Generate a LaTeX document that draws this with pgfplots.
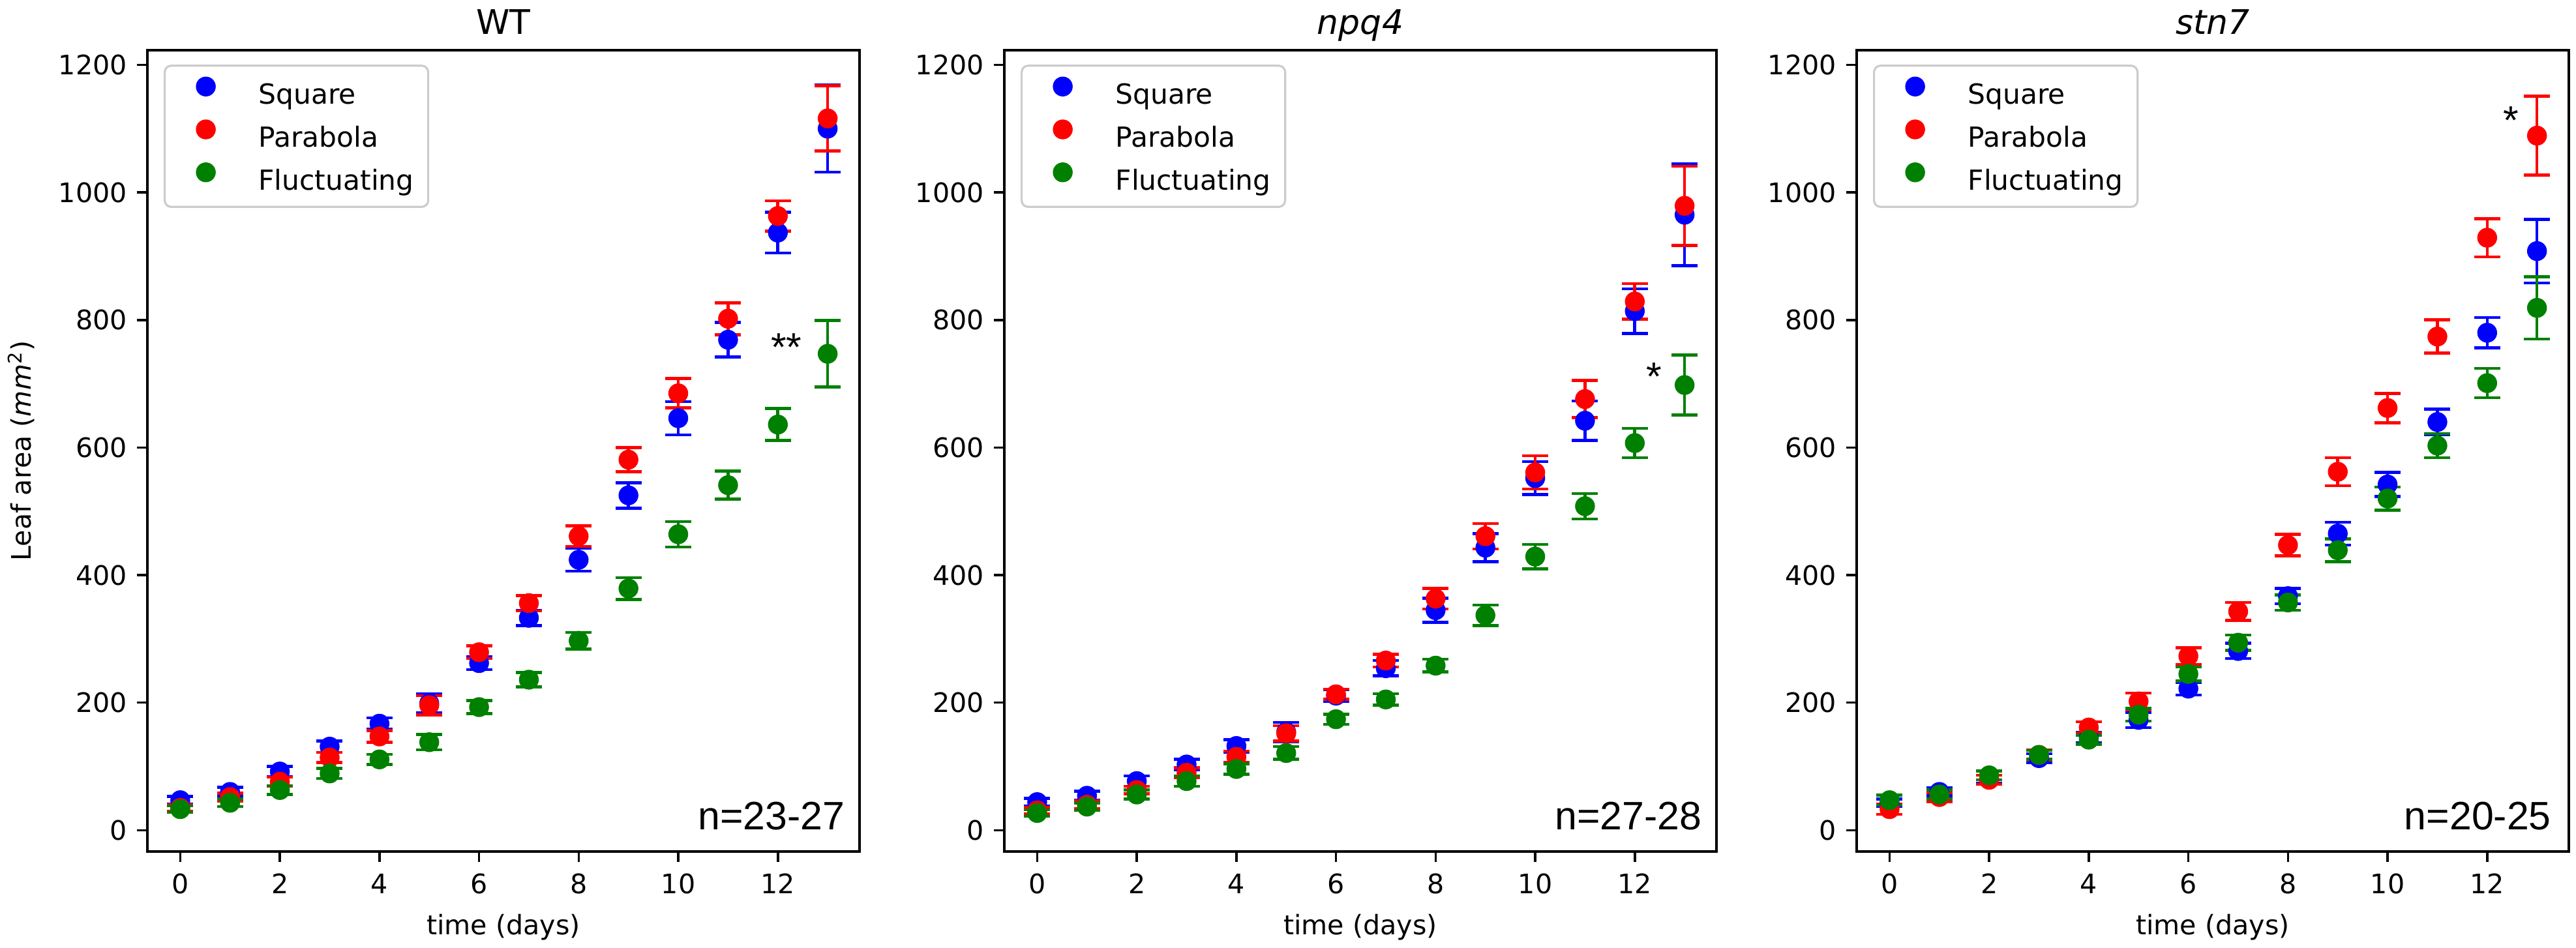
\documentclass[border=0pt]{standalone}
\usepackage{fontspec}
\setmainfont{DejaVu Sans}
\newfontfamily\arialfont{Liberation Sans}
\usepackage{pgfplots}
\pgfplotsset{compat=1.18}
\usepackage{pgfplotstable}

\definecolor{mblue}{RGB}{0,0,255}
\definecolor{mred}{RGB}{255,0,0}
\definecolor{mgreen}{RGB}{0,128,0}

% ---------------- WT ----------------
\pgfplotstableread{
x y e
0 47 6
1 60 7
2 92 8
3 131 9
4 167 9
5 199 15
6 262 10
7 333 12
8 424 18
9 525 20
10 646 26
11 769 27
12 937 32
13 1100 68
}\wtsq
\pgfplotstableread{
x y e
0 35 5
1 52 6
2 76 7
3 114 8
4 147 9
5 196 15
6 279 10
7 356 12
8 461 16
9 581 19
10 685 23
11 802 25
12 963 24
13 1116 51
}\wtpa
\pgfplotstableread{
x y e
0 33 5
1 43 6
2 63 7
3 89 8
4 111 8
5 138 12
6 193 10
7 236 11
8 297 13
9 379 17
10 464 20
11 541 22
12 636 25
13 747 52
}\wtfl
% ---------------- npq4 ----------------
\pgfplotstableread{
x y e
0 44 6
1 54 7
2 77 8
3 103 8
4 132 10
5 154 15
6 211 9
7 254 12
8 345 19
9 443 22
10 552 26
11 642 31
12 814 35
13 965 80
}\npsq
\pgfplotstableread{
x y e
0 31 5
1 40 6
2 63 6
3 90 8
4 115 9
5 152 12
6 213 8
7 266 10
8 363 16
9 461 20
10 561 26
11 676 29
12 829 28
13 979 62
}\nppa
\pgfplotstableread{
x y e
0 27 5
1 37 6
2 56 7
3 77 8
4 96 8
5 121 10
6 174 8
7 205 9
8 258 10
9 337 16
10 429 19
11 508 20
12 607 23
13 698 47
}\npfl
% ---------------- stn7 ----------------
\pgfplotstableread{
x y e
0 43 6
1 60 6
2 80 6
3 113 7
4 145 8
5 173 12
6 222 10
7 281 12
8 367 12
9 465 18
10 542 19
11 640 20
12 780 24
13 908 50
}\stsq
\pgfplotstableread{
x y e
0 33 8
1 52 7
2 79 7
3 118 8
4 161 9
5 202 13
6 273 13
7 343 14
8 447 17
9 562 22
10 662 23
11 774 26
12 929 30
13 1089 62
}\stpa
\pgfplotstableread{
x y e
0 47 8
1 56 7
2 86 7
3 118 7
4 142 7
5 181 10
6 245 11
7 294 12
8 357 12
9 439 18
10 520 18
11 603 19
12 701 23
13 819 49
}\stfl

\newcommand{\basefont}{\fontsize{10.3}{12.5}\selectfont}
\newcommand{\legfont}{\fontsize{10.6}{12.5}\selectfont}

\pgfplotsset{
  panel/.style={
    scale only axis, width=273pt, height=307.25pt,
    xmin=-0.66, xmax=13.64, ymin=-33.4, ymax=1223,
    xtick={0,2,...,12}, ytick={0,200,...,1200},
    tick align=outside, major tick length=4pt,
    xtick pos=bottom, ytick pos=left,
    axis line style={line width=0.9pt},
    every tick/.style={black, line width=0.9pt},
    tick label style={font=\basefont},
    /pgf/number format/assume math mode=true,
    /pgf/number format/1000 sep={},
    xticklabel style={anchor=base, inner sep=0pt, yshift=-12.2pt},
    yticklabel style={anchor=east, inner sep=0pt, xshift=-3.6pt},
    xlabel={time (days)},
    xlabel style={at={(axis description cs:0.5,0)}, anchor=base, yshift=-32pt, font=\basefont},
    title style={at={(axis description cs:0.5,1)}, anchor=base, yshift=0pt, font=\fontsize{13}{15}\selectfont},
    legend style={at={(axis description cs:0.0229,0.982)}, anchor=north west,
      draw=black!20, line width=0.8pt, rounded corners=2.5pt, fill=white,
      inner xsep=5.5pt, inner ysep=4pt, row sep=3.2pt, column sep=16.5pt,
      nodes={inner sep=0pt, text height=8pt, text depth=2.5pt},
      font=\legfont},
    legend cell align=left,
    legend image code/.code={\path[draw=none,fill=none] (0pt,-0.5pt) rectangle (14pt,8pt);
      \draw[##1] plot coordinates {(10.25pt,4pt)};},
  },
  ser/.style={#1, only marks, mark=*, mark size=3.65pt,
    mark options={solid, line width=0.3pt},
    error bars/.cd, y dir=both, y explicit,
    error bar style={line width=1.15pt, solid, #1},
    error mark options={rotate=90, line width=1.15pt, mark size=5pt, #1}},
}

\begin{document}
\begin{tikzpicture}
\useasboundingbox (-56.5pt,-37pt) rectangle (931pt,326.5pt);

\begin{axis}[panel, at={(0pt,0pt)}, anchor=south west, title={WT},
  ylabel={Leaf area (\textit{mm}\textsuperscript{2})},
  ylabel style={at={(axis description cs:-0.177,0.5)}, anchor=center, font=\basefont},
  legend entries={Square,Parabola,Fluctuating}]
\addplot[ser=mblue] table[x=x,y=y,y error=e]{\wtsq};
\addplot[ser=mred] table[x=x,y=y,y error=e]{\wtpa};
\addplot[ser=mgreen] table[x=x,y=y,y error=e]{\wtfl};
\node[font=\arialfont\fontsize{15.2}{17}\selectfont] at (axis cs:12.17,757) {**};
\node[anchor=base east, font=\arialfont\fontsize{15.2}{17}\selectfont] at (rel axis cs:0.992,0.027) {n=23-27};
\end{axis}

\begin{axis}[panel, at={(328.5pt,0pt)}, anchor=south west, title={\itshape npq4},
  yticklabel={},
  legend entries={Square,Parabola,Fluctuating}]
\addplot[ser=mblue] table[x=x,y=y,y error=e]{\npsq};
\addplot[ser=mred] table[x=x,y=y,y error=e]{\nppa};
\addplot[ser=mgreen] table[x=x,y=y,y error=e]{\npfl};
\node[font=\arialfont\fontsize{15.2}{17}\selectfont] at (axis cs:12.39,711) {*};
\node[anchor=base east, font=\arialfont\fontsize{15.2}{17}\selectfont] at (rel axis cs:0.992,0.027) {n=27-28};
\end{axis}

\begin{axis}[panel, at={(655.25pt,0pt)}, anchor=south west, title={\itshape stn7},
  yticklabel={},
  legend entries={Square,Parabola,Fluctuating}]
\addplot[ser=mblue] table[x=x,y=y,y error=e]{\stsq};
\addplot[ser=mred] table[x=x,y=y,y error=e]{\stpa};
\addplot[ser=mgreen] table[x=x,y=y,y error=e]{\stfl};
\node[font=\arialfont\fontsize{15.2}{17}\selectfont] at (axis cs:12.48,1113) {*};
\node[anchor=base east, font=\arialfont\fontsize{15.2}{17}\selectfont] at (rel axis cs:0.988,0.027) {n=20-25};
\end{axis}
\end{tikzpicture}
\end{document}
